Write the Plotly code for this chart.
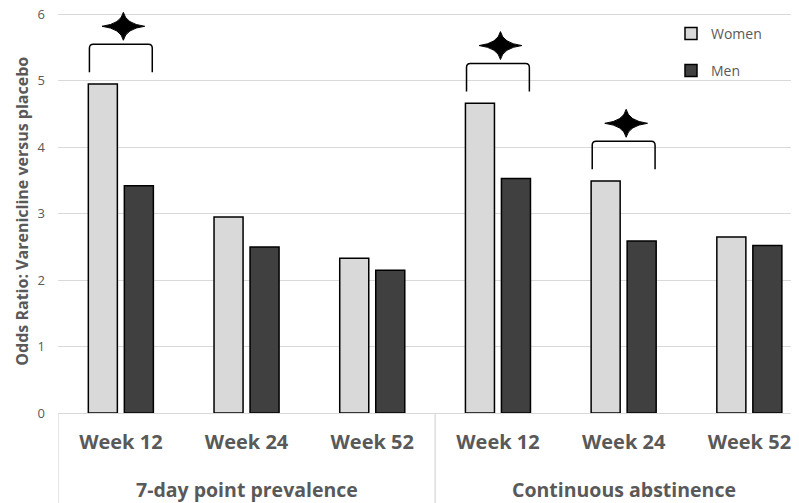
import plotly.graph_objects as go

# ---- data ----
weeks = ["Week 12", "Week 24", "Week 52", "Week 12", "Week 24", "Week 52"]
groups = ["7-day point prevalence", "Continuous abstinence"]
group_sizes = [3, 3]
women = [4.95, 2.95, 2.33, 4.66, 3.49, 2.65]
men = [3.42, 2.50, 2.15, 3.53, 2.59, 2.52]
significant = [True, False, False, True, True, False]
yticks = [0, 1, 2, 3, 4, 5, 6]

GREY_TXT = "#595959"
GRID = "#d9d9d9"
FONT = "Open Sans"

# page body has an 8px default margin; size the figure so it fills the window
OFF = 8
W, H = 799 - OFF, 503 - OFF
Y_TOP = 6.035
PX_PER_UNIT = 66.5
ML, MR, MB = 58 - OFF, 0, H - (413.5 - OFF)
MT = (413.5 - OFF) - Y_TOP * PX_PER_UNIT
xs = list(range(len(weeks)))
x_lo = -0.5
x_hi = 5.395
pw = W - ML - MR
ph = H - MT - MB

def xpaper(px):
    return (px - OFF - ML) / pw

def ypaper(py):
    return (H - MB - (py - OFF)) / ph

fig = go.Figure()
fig.add_trace(go.Bar(x=xs, y=women, name="Women", marker=dict(color="#d9d9d9", line=dict(color="#000000", width=1.5)),
                     legendgroup="w"))
fig.add_trace(go.Bar(x=xs, y=men, name="Men", marker=dict(color="#404040", line=dict(color="#000000", width=1.5)),
                     legendgroup="m"))

shapes = []
annotations = []

# significance brackets and stars
for i, sig in enumerate(significant):
    if not sig:
        continue
    top = max(women[i], men[i])
    yb = top + 0.18
    yt = top + 0.60
    ys = top + 0.87
    x0 = i - 0.25
    x1 = i + 0.25
    rx, ry = 0.03, 0.06
    path = (f"M {x0},{yb} L {x0},{yt - ry} Q {x0},{yt} {x0 + rx},{yt} "
            f"L {x1 - rx},{yt} Q {x1},{yt} {x1},{yt - ry} L {x1},{yb}")
    shapes.append(dict(type="path", path=path, xref="x", yref="y",
                       line=dict(color="#000000", width=1.5)))
    sw, sh = 0.17, 0.21
    iw, ih = 0.02, 0.035
    cx = i + 0.02
    star = (f"M {cx - sw},{ys} Q {cx - iw},{ys + ih} {cx},{ys + sh} "
            f"Q {cx + iw},{ys + ih} {cx + sw},{ys} "
            f"Q {cx + iw},{ys - ih} {cx},{ys - sh} "
            f"Q {cx - iw},{ys - ih} {cx - sw},{ys} Z")
    shapes.append(dict(type="path", path=star, xref="x", yref="y",
                       fillcolor="#000000", line=dict(color="#000000", width=1)))

# category dividers and group labels
start = 0
bounds = [start - 0.5]
for g, n in zip(groups, group_sizes):
    center = start + (n - 1) / 2
    annotations.append(dict(x=center, y=ypaper(490), xref="x", yref="paper", text=f"<b>{g}</b>",
                            showarrow=False, yanchor="middle",
                            font=dict(family=FONT, size=19.5, color=GREY_TXT)))
    start += n
    bounds.append(start - 0.5)
for b in bounds:
    shapes.append(dict(type="line", x0=b, x1=b, xref="x", y0=0, y1=ypaper(510), yref="paper",
                       line=dict(color=GRID, width=1.3)))

annotations.append(dict(x=xpaper(22), y=ypaper(212), xref="paper", yref="paper",
                        xanchor="center", yanchor="middle",
                        text="<b>Odds Ratio: Varenicline versus placebo</b>", textangle=-90,
                        showarrow=False, font=dict(family=FONT, size=16, color=GREY_TXT)))

fig.update_layout(
    width=W, height=H,
    margin=dict(l=ML, r=MR, t=MT, b=MB, autoexpand=False),
    paper_bgcolor="white", plot_bgcolor="white",
    barmode="group", bargap=0.427, bargroupgap=0.194,
    font=dict(family=FONT, color=GREY_TXT),
    showlegend=True,
    legend=dict(x=xpaper(671), y=ypaper(18), xanchor="left", yanchor="top",
                font=dict(family=FONT, size=14, color=GREY_TXT),
                tracegroupgap=16, bgcolor="rgba(0,0,0,0)"),
    shapes=shapes, annotations=annotations,
)
fig.update_xaxes(range=[x_lo, x_hi], tickmode="array", tickvals=xs,
                 ticktext=[f"<b>{w}</b>" for w in weeks],
                 tickfont=dict(family=FONT, size=20, color=GREY_TXT),
                 showgrid=False, zeroline=False, showline=True, linecolor=GRID, linewidth=1.3,
                 ticks="", ticklabelstandoff=11, automargin=False, ticklabeloverflow="allow")
fig.update_yaxes(range=[0, Y_TOP], tickvals=yticks, showgrid=True, gridcolor=GRID, gridwidth=1.3,
                 zeroline=False, showline=False, ticks="", automargin=False,
                 ticklabeloverflow="allow",
                 tickfont=dict(family=FONT, size=13, color=GREY_TXT), ticklabelstandoff=12)

fig.write_html("out.html")
